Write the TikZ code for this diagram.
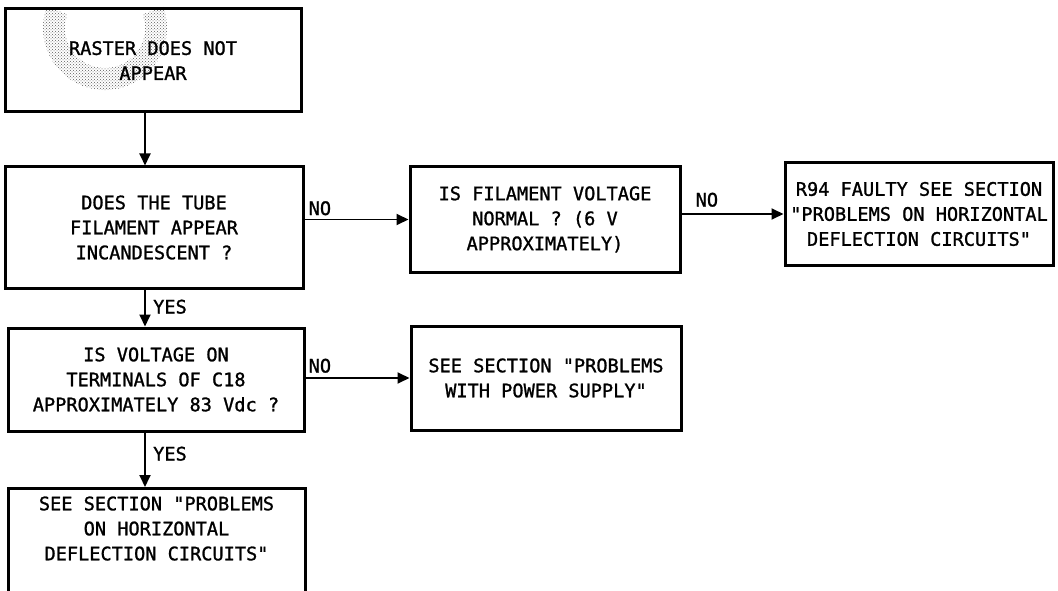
\documentclass[tikz,border=0pt]{standalone}
\usepackage{fontspec}
\setmonofont[FakeBold=1.2]{DejaVu Sans Mono}
\usepackage{tikz}
\usetikzlibrary{arrows.meta,calc,positioning,patterns}
\definecolor{smudgegray}{RGB}{90,90,90}

\begin{document}
\begin{tikzpicture}[x=1pt, y=-1pt,
  every node/.style={font=\ttfamily\fontsize{18.6}{25}\selectfont},
  box/.style={draw, line width=3pt, align=center, inner sep=0pt},
  flow/.style={line width=1.8pt, -{Triangle[length=12pt,width=11pt]}},
  lbl/.style={inner sep=0pt}]
  \clip (0,0) rectangle (1058,591);

  % scanner smudge behind the first box
  \fill[pattern=crosshatch dots, pattern color=smudgegray]
    ($(105,28)+(200:62)$) arc[start angle=200, end angle=-20, radius=62]
    -- ($(105,28)+(-20:40)$) arc[start angle=-20, end angle=200, radius=40] -- cycle;

  % left column
  \node[box, minimum width=296pt, minimum height=103pt] (raster) at (153,60.5)
    {RASTER DOES NOT\\APPEAR};
  \node[box, minimum width=298pt, minimum height=121pt] (glow) at (154,227.5)
    {DOES THE TUBE\\FILAMENT APPEAR\\INCANDESCENT ?};
  \node[box, minimum width=296pt, minimum height=103pt] (cvolt) at (156,379.5)
    {IS VOLTAGE ON\\TERMINALS OF C18\\APPROXIMATELY 83 Vdc ?};
  \node[box, anchor=north, minimum width=297pt, inner ysep=8pt, text depth=130pt] (hdefl) at (156.5,487)
    {SEE SECTION "PROBLEMS\\ON HORIZONTAL\\DEFLECTION CIRCUITS"};

  % right-hand boxes
  \node[box, minimum width=270pt, minimum height=105pt] (filvolt) at (545,219.5)
    {IS FILAMENT VOLTAGE\\NORMAL ? (6 V\\APPROXIMATELY)};
  \node[box, minimum width=268pt, minimum height=102pt] (rfault) at (919,214)
    {R94 FAULTY SEE SECTION\\"PROBLEMS ON HORIZONTAL\\DEFLECTION CIRCUITS"};
  \node[box, minimum width=270pt, minimum height=104pt] (psu) at (546,378)
    {SEE SECTION "PROBLEMS\\WITH POWER SUPPLY"};

  % connectors
  \coordinate (vx) at (145,0);
  \draw[flow] (raster.south -| vx) -- (glow.north -| vx);
  \draw[flow] (glow.south -| vx) -- (cvolt.north -| vx);
  \draw[flow] (cvolt.south -| vx) -- (hdefl.north -| vx);
  \draw[flow] (glow.east |- filvolt.west) -- (filvolt.west);
  \draw[flow] (filvolt.east |- rfault.west) -- (rfault.west);
  \draw[flow] (cvolt.east |- psu.west) -- (psu.west);

  % answers
  \node[lbl, above right=4pt and 4pt] (no1) at (glow.east |- filvolt.west) {NO};
  \node[lbl, above right=7pt and 14pt] (no2) at (filvolt.east |- rfault.west) {NO};
  \node[lbl, above right=5pt and 3pt] (no3) at (cvolt.east |- psu.west) {NO};
  \node[lbl, below right=10pt and 8pt] (yes1) at (glow.south -| vx) {YES};
  \node[lbl, below right=14pt and 8pt] (yes2) at (cvolt.south -| vx) {YES};
\end{tikzpicture}
\end{document}
